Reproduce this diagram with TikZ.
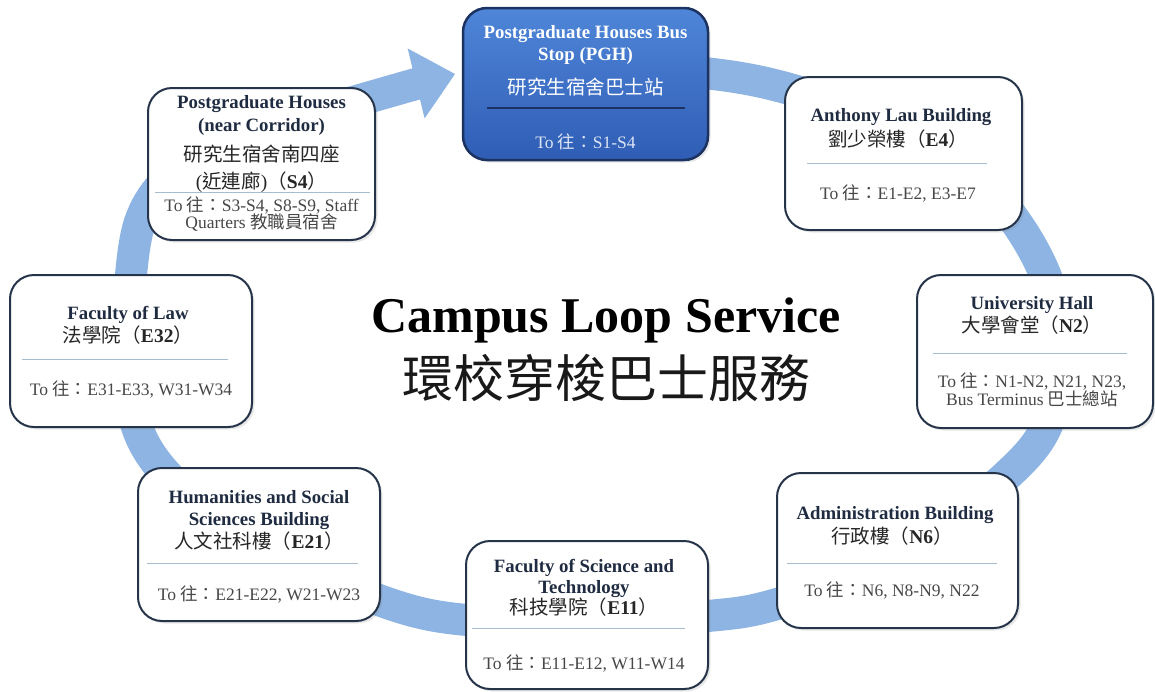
\documentclass[tikz,border=0pt]{standalone}
\usepackage{fontspec}
\setmainfont{Liberation Serif}
\newfontfamily\cjk{Noto Sans CJK TC}
\usetikzlibrary{arrows.meta,shadows,calc}
\definecolor{band}{HTML}{8EB4E3}
\definecolor{navy}{HTML}{26344A}
\definecolor{ttlc}{HTML}{1F2B40}
\definecolor{toc}{HTML}{474747}
\definecolor{sepc}{HTML}{A8BCCF}
\definecolor{pghtop}{HTML}{4F86D8}
\definecolor{pghbot}{HTML}{2F5DB5}
\definecolor{pghedge}{HTML}{1C3260}
\definecolor{pghto}{HTML}{DCE5F4}
\newcommand\lb[1]{{\rmfamily\bfseries #1}}
\newcommand\cj[1]{{\cjk #1}}
\begin{document}
\begin{tikzpicture}[x=1pt,y=-1pt,
  wbox/.style={draw=navy, line width=2pt, fill=white, rounded corners=24pt, inner sep=0pt,
    drop shadow={opacity=0.18, shadow xshift=2.5pt, shadow yshift=-2.5pt}},
  bbox/.style={draw=pghedge, line width=2.5pt, rounded corners=24pt, inner sep=0pt,
    top color=pghtop, bottom color=pghbot,
    drop shadow={opacity=0.18, shadow xshift=2.5pt, shadow yshift=-2.5pt}},
  ttl/.style={anchor=base, inner sep=0pt, font=\bfseries\fontsize{18.8}{22}\selectfont, text=ttlc},
  cjl/.style={anchor=base, inner sep=0pt, font=\cjk\fontsize{19.5}{22}\selectfont, text=black!85},
  tol/.style={anchor=base, inner sep=0pt, font=\fontsize{17.5}{20}\selectfont, text=toc},
  sepl/.style={draw=sepc, line width=1pt},
  bigt/.style={anchor=base, inner sep=0pt, font=\bfseries\fontsize{50}{56}\selectfont},
  bigc/.style={anchor=base, inner sep=0pt, font=\cjk\fontsize{51}{56}\selectfont},
]
\fill[white] (0,0) rectangle (1155,691);
\useasboundingbox (0,0) rectangle (1155,691);

% ring
\draw[band, line width=32pt, -{Triangle[length=40pt,width=72pt,line width=0pt]}]
  plot[smooth, tension=0.55] coordinates {
  (640,66) (735,77) (800,92) (900,125) (975,175) (1020,228) (1049,285) (1060,350)
  (1047,425) (1004,478) (900,560) (777,604) (708,616) (587,623) (467,620) (393,605)
  (290,562) (215,518) (160,467) (135,420) (128,350) (131,275) (140,222) (162,185)
  (205,152) (275,124) (346,104) (416,84) (455,74)};

% boxes
\node[bbox, minimum width=245pt, minimum height=152pt] (pgh) at (585.5,84) {};
\node[wbox, minimum width=227pt, minimum height=152pt] (s4) at (261.5,164) {};
\node[wbox, minimum width=237pt, minimum height=153pt] (al) at (903.5,153.5) {};
\node[wbox, minimum width=236pt, minimum height=153pt] (uh) at (1035,351.5) {};
\node[wbox, minimum width=242pt, minimum height=152pt] (law) at (131,351) {};
\node[wbox, minimum width=242pt, minimum height=153pt] (hum) at (259,544.5) {};
\node[wbox, minimum width=242pt, minimum height=148pt] (sci) at (587,615) {};
\node[wbox, minimum width=241pt, minimum height=155pt] (adm) at (897.5,550.5) {};

% PGH
\node[ttl, text=white] (pgh1) at (585.5,38) {Postgraduate Houses Bus};
\node[ttl, text=white] (pgh2) at (585.5,60) {Stop (PGH)};
\node[cjl, text=white] (pgh3) at (585.5,94) {研究生宿舍巴士站};
\draw[draw=pghedge, line width=1.2pt] ($(pgh.center)+(-98.5,24)$) -- ($(pgh.center)+(99.5,24)$);
\node[tol, text=pghto] (pgh4) at (585.5,148) {To \cj{往：}S1-S4};

% S4
\node[ttl] (s41) at (261.5,108) {Postgraduate Houses};
\node[ttl] (s42) at (261.5,131) {(near Corridor)};
\node[cjl] (s43) at (261.5,161) {研究生宿舍南四座};
\node[cjl] (s44) at (261.5,188) {{\rmfamily(}近連廊{\rmfamily)}（\lb{S4}）};
\draw[sepl] ($(s4.center)+(-106.5,28)$) -- ($(s4.center)+(108.5,28)$);
\node[tol] (s45) at (261.5,211) {To \cj{往：}S3-S4, S8-S9, Staff};
\node[tol] (s46) at (261.5,228) {Quarters \cj{教職員宿舍}};

% Anthony Lau
\node[ttl] (al1) at (901,121) {Anthony Lau Building};
\node[cjl] (al2) at (898,146) {劉少榮樓（\lb{E4}）};
\draw[sepl] ($(al.center)+(-96.5,9.5)$) -- ($(al.center)+(83.5,9.5)$);
\node[tol] (al3) at (898,199) {To \cj{往：}E1-E2, E3-E7};

% University Hall
\node[ttl] (uh1) at (1032,309) {University Hall};
\node[cjl] (uh2) at (1032,332) {大學會堂（\lb{N2}）};
\draw[sepl] ($(uh.center)+(-102,1.5)$) -- ($(uh.center)+(92,1.5)$);
\node[tol] (uh3) at (1032,387) {To \cj{往：}N1-N2, N21, N23,};
\node[tol] (uh4) at (1032,405) {Bus Terminus \cj{巴士總站}};

% Law
\node[ttl] (law1) at (128,319) {Faculty of Law};
\node[cjl] (law2) at (128,342) {法學院（\lb{E32}）};
\draw[sepl] ($(law.center)+(-109,8)$) -- ($(law.center)+(97,8)$);
\node[tol] (law3) at (131,395) {To \cj{往：}E31-E33, W31-W34};

% Humanities
\node[ttl] (hum1) at (259,503) {Humanities and Social};
\node[ttl] (hum2) at (259,525) {Sciences Building};
\node[cjl] (hum3) at (259,548) {人文社科樓（\lb{E21}）};
\draw[sepl] ($(hum.center)+(-112,18.5)$) -- ($(hum.center)+(99,18.5)$);
\node[tol] (hum4) at (259,600) {To \cj{往：}E21-E22, W21-W23};

% Science
\node[ttl] (sci1) at (584,572) {Faculty of Science and};
\node[ttl] (sci2) at (584,593) {Technology};
\node[cjl] (sci3) at (584,614) {科技學院（\lb{E11}）};
\draw[sepl] ($(sci.center)+(-115,13)$) -- ($(sci.center)+(98,13)$);
\node[tol] (sci4) at (584,669) {To \cj{往：}E11-E12, W11-W14};

% Administration
\node[ttl] (adm1) at (895,519) {Administration Building};
\node[cjl] (adm2) at (892,543) {行政樓（\lb{N6}）};
\draw[sepl] ($(adm.center)+(-110.5,12.5)$) -- ($(adm.center)+(99.5,12.5)$);
\node[tol] (adm3) at (892,596) {To \cj{往：}N6, N8-N9, N22};

% central title
\node[bigt, text=black] (title) at (606,332) {Campus Loop Service};
\node[bigc, text=black!90] (ctitle) at (606,397) {環校穿梭巴士服務};
\end{tikzpicture}
\end{document}
